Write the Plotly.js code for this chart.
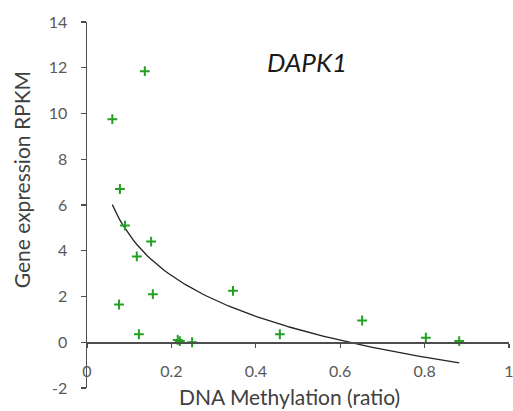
<!DOCTYPE html>
<html>
<head>
<meta charset="utf-8">
<script src="https://cdn.plot.ly/plotly-3.0.1.min.js"></script>
<style>html,body{margin:0;padding:0;background:#fff;}#chart{width:513px;height:411px;}</style>
</head>
<body>
<div id="chart"></div>
<script>
// Data
const methylation = [0.060, 0.078, 0.076, 0.090, 0.118, 0.123, 0.137, 0.152, 0.156, 0.215, 0.220, 0.249, 0.346, 0.457, 0.652, 0.803, 0.882];
const expression  = [9.75, 6.70, 1.65, 5.10, 3.75, 0.35, 11.85, 4.40, 2.10, 0.10, 0.05, 0.00, 2.25, 0.35, 0.95, 0.20, 0.05];
const xTicks = [0, 0.2, 0.4, 0.6, 0.8, 1];
const xTickText = ['0', '0.2', '0.4', '0.6', '0.8', '1'];
const yTicks = [-2, 0, 2, 4, 6, 8, 10, 12, 14];
const yTickText = ['-2', '0', '2', '4', '6', '8', '10', '12', '14'];
const geneName = 'DAPK1';
const xTitle = 'DNA Methylation (ratio)';
const yTitle = 'Gene expression RPKM';

// Logarithmic least-squares trendline (y = a ln x + b) fitted from the data
const lx = methylation.map(v => Math.log(v));
const n = lx.length;
const mx = lx.reduce((s, v) => s + v, 0) / n;
const my = expression.reduce((s, v) => s + v, 0) / n;
let sxy = 0, sxx = 0;
for (let i = 0; i < n; i++) { sxy += (lx[i] - mx) * (expression[i] - my); sxx += (lx[i] - mx) ** 2; }
const a = sxy / sxx, b = my - a * mx;
const xmin = Math.min(...methylation), xmax = Math.max(...methylation);
const trendX = [], trendY = [];
for (let i = 0; i <= 100; i++) { const x = xmin + (xmax - xmin) * i / 100; trendX.push(x); trendY.push(a * Math.log(x) + b); }

const font = 'Lato, "Open Sans", sans-serif';
const traces = [
  { x: trendX, y: trendY, mode: 'lines', line: { color: '#222', width: 1.3 }, hoverinfo: 'skip', showlegend: false },
  { x: methylation, y: expression, mode: 'markers', showlegend: false,
    marker: { symbol: 'cross-thin', size: 7, line: { color: '#22a022', width: 2 } } }
];
const layout = {
  width: 513, height: 411,
  margin: { l: 87, r: 4, t: 22, b: 23 },
  paper_bgcolor: '#fff', plot_bgcolor: '#fff',
  showlegend: false,
  font: { family: font, color: '#595959', size: 12 },
  xaxis: {
    range: [0, 1], tickvals: xTicks, ticktext: xTickText,
    anchor: 'free', position: 0.125,
    showgrid: false, zeroline: false,
    showline: true, linecolor: '#4d4d4d', linewidth: 1.5,
    ticks: 'outside', ticklen: 4, tickcolor: '#4d4d4d', tickwidth: 1.2,
    ticklabelstandoff: 10, ticklabeloverflow: 'allow',
    tickfont: { family: font, size: 16, color: '#595959' }
  },
  yaxis: {
    range: [-2, 14], tickvals: yTicks, ticktext: yTickText,
    showgrid: false, zeroline: false,
    showline: true, linecolor: '#4d4d4d', linewidth: 1.5,
    ticks: 'outside', ticklen: 5, tickcolor: '#4d4d4d', tickwidth: 1.2,
    ticklabelstandoff: 10, ticklabeloverflow: 'allow',
    tickfont: { family: font, size: 16, color: '#595959' }
  },
  annotations: [
    { text: '<i>' + geneName + '</i>', xref: 'paper', yref: 'paper',
      x: 0.521, y: 0.891, xanchor: 'center', yanchor: 'middle', showarrow: false,
      font: { family: font, size: 26, color: '#1a1a1a' } },
    { text: xTitle, xref: 'paper', yref: 'paper',
      x: 0.479, y: -0.0628, xanchor: 'center', yanchor: 'bottom', showarrow: false,
      font: { family: font, size: 21, color: '#404040' } },
    { text: yTitle, xref: 'paper', yref: 'paper', textangle: -90,
      x: -0.156, y: 0.568, xanchor: 'center', yanchor: 'middle', showarrow: false,
      font: { family: font, size: 21, color: '#404040' } }
  ]
};
Plotly.newPlot('chart', traces, layout, { displayModeBar: false, staticPlot: true });
</script>
</body>
</html>
